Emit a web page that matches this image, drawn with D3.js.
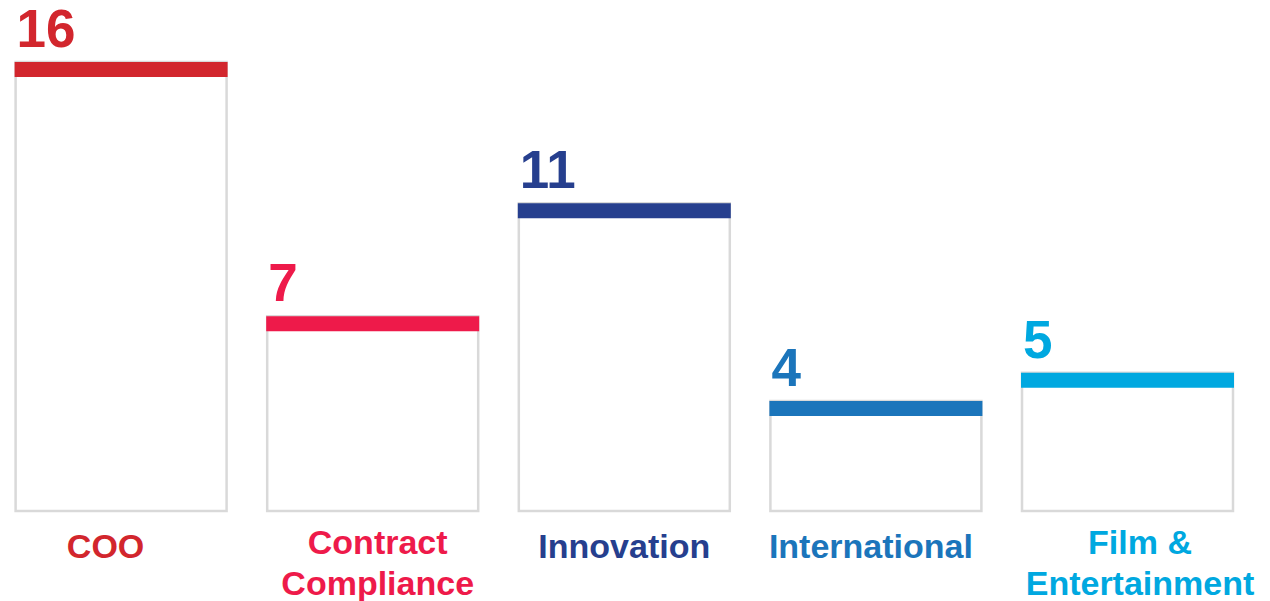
<!DOCTYPE html>
<html><head><meta charset="utf-8">
<script src="https://cdn.jsdelivr.net/npm/d3@7"></script>
<style>body{margin:0;background:#fff;} svg{display:block;}</style>
</head><body>
<svg id="chart" width="1270" height="601"></svg>
<script>
const categories = ["COO", "Contract Compliance", "Innovation", "International", "Film & Entertainment"];
const labelLines = [["COO"], ["Contract", "Compliance"], ["Innovation"], ["International"], ["Film &", "Entertainment"]];
const values = [16, 7, 11, 4, 5];
const colors = ["#d2262d", "#ee1a4a", "#263f8e", "#1b75bb", "#00a8e0"];

// layout tweaks (label horizontal nudges as in the original slide)
const labelNudge = [-15.5, 5, 0, -5, 12.5];

const svg = d3.select("#chart");
const x = d3.scaleBand().domain(categories).range([15.6, 1233]).paddingInner(0.1614).paddingOuter(0);
const y = d3.scaleLinear().domain([0, 16]).range([514, 62]);
const base = 511;

const g = svg.selectAll("g.bar").data(categories).enter().append("g").attr("class", "bar");

g.append("rect")
  .attr("x", d => x(d))
  .attr("y", (d, i) => y(values[i]))
  .attr("width", x.bandwidth())
  .attr("height", (d, i) => base - y(values[i]))
  .attr("fill", "#fff")
  .attr("stroke", "#d9d9d9")
  .attr("stroke-width", 2.5);

g.append("rect")
  .attr("x", d => x(d) - 1)
  .attr("y", (d, i) => y(values[i]))
  .attr("width", x.bandwidth() + 2)
  .attr("height", 15)
  .attr("fill", (d, i) => colors[i]);

g.append("text")
  .attr("x", d => x(d) + 1)
  .attr("y", (d, i) => y(values[i]) - 15)
  .attr("font-family", "Liberation Sans, Arial, sans-serif")
  .attr("font-weight", "bold")
  .attr("font-size", 53)
  .attr("fill", (d, i) => colors[i])
  .text((d, i) => values[i]);

g.each(function(d, i) {
  const lines = labelLines[i];
  const t = d3.select(this).append("text")
    .attr("text-anchor", "middle")
    .attr("font-family", "Liberation Sans, Arial, sans-serif")
    .attr("font-weight", "bold")
    .attr("font-size", 34)
    .attr("fill", colors[i]);
  const y0 = lines.length === 1 ? 558 : 554;
  lines.forEach((ln, k) => {
    t.append("tspan")
      .attr("x", x(d) + x.bandwidth() / 2 + labelNudge[i])
      .attr("y", y0 + k * 41)
      .text(ln);
  });
});
</script>
</body></html>
